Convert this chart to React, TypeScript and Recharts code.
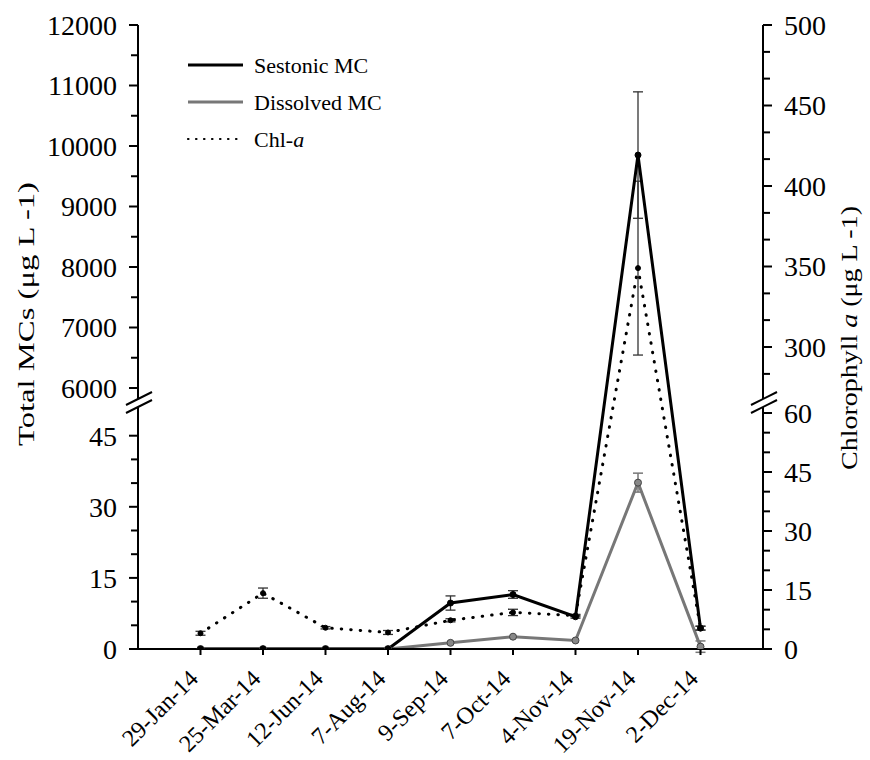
import React from 'react'
import { ComposedChart, Line, XAxis, YAxis, ErrorBar, Legend } from 'recharts'

const dates = ['29-Jan-14', '25-Mar-14', '12-Jun-14', '7-Aug-14', '9-Sep-14', '7-Oct-14', '4-Nov-14', '19-Nov-14', '2-Dec-14']

// MC concentrations (µg/L) and chlorophyll a (µg/L), mean and SD; null = no bar drawn
const sestonic = [0, 0, 0, 0, 9.7, 11.5, 6.8, 9850, 4.4]
const sestonicSd = [null, null, null, null, 1.5, 0.8, 0.3, 1045, 0.4]
const dissolved = [0, 0, 0, 0, 1.3, 2.6, 1.8, 35.1, 0.5]
const dissolvedSd = [null, null, null, null, null, null, null, 2.0, 1.2]
const chla = [4.0, 14.2, 5.4, 4.2, 7.3, 9.3, 8.5, 349, 5.3]
const chlaSd = [0.5, 1.3, 0.3, 0.5, 0.4, 0.8, 0.3, 54, 0.5]

const leftMajor = [0, 15, 30, 45, 6000, 7000, 8000, 9000, 10000, 11000, 12000]
const leftMinor = [5, 10, 20, 25, 35, 40, 6500, 7500, 8500, 9500, 10500, 11500]
const rightMajor = [0, 15, 30, 45, 60, 300, 350, 400, 450, 500]
const rightMinor = [5, 10, 20, 25, 35, 40, 50, 55, 283.3, 316.7, 333.3, 366.7, 383.3, 416.7, 433.3, 466.7, 483.3]

const FONT = '"Liberation Serif", "Times New Roman", serif'
const W = 870
const H = 760
const TOP = 25
const PLOT_H = 624
const LEFT_W = 138
const RIGHT_W = 107
const X_H = H - TOP - PLOT_H

// broken axes: a lower and an upper band stacked on one 0..PLOT_H axis
type Band = { v0: number; v1: number; u0: number; u1: number }
const leftBands: Band[] = [
  { v0: 0, v1: 50, u0: 0, u1: 237 },
  { v0: 6000, v1: 12000, u0: 261, u1: 624 },
]
const rightBands: Band[] = [
  { v0: 0, v1: 60, u0: 0, u1: 236 },
  { v0: 300, v1: 500, u0: 302, u1: 624 },
]

const broken = (bands: Band[]) => (v: number) => {
  const b = v <= bands[0].v1 ? bands[0] : bands[1]
  return b.u0 + ((v - b.v0) * (b.u1 - b.u0)) / (b.v1 - b.v0)
}
const toL = broken(leftBands)
const toR = broken(rightBands)

const errPair = (f: (v: number) => number, v: number, sd: number | null) =>
  sd == null ? null : [f(v) - f(v - sd), f(v + sd) - f(v)]

const rows = dates.map((d, i) => ({
  x: i + 1,
  date: d,
  ses: toL(sestonic[i]),
  sesErr: errPair(toL, sestonic[i], sestonicSd[i]),
  dis: toL(dissolved[i]),
  disErr: errPair(toL, dissolved[i], dissolvedSd[i]),
  chl: toR(chla[i]),
  chlErr: errPair(toR, chla[i], chlaSd[i]),
}))

const styles: Record<string, { stroke: string; width: number; dash?: string; legendDash?: string; legendWidth?: number }> = {
  'Sestonic MC': { stroke: '#000', width: 3 },
  'Dissolved MC': { stroke: '#777', width: 3 },
  'Chl-a': { stroke: '#000', width: 3, dash: '0.5 9', legendDash: '0.5 7.5', legendWidth: 2.2 },
}
const legendOrder = ['Sestonic MC', 'Dissolved MC', 'Chl-a']

const tickEntries = (major: number[], minor: number[], f: (v: number) => number) => [
  ...major.map((v) => ({ v, u: f(v), major: true })),
  ...minor.map((v) => ({ v, u: f(v), major: false })),
]
const leftEntries = tickEntries(leftMajor, leftMinor, toL)
const rightEntries = tickEntries(rightMajor, rightMinor, toR)

const makeYTick = (side: 'left' | 'right', entries: { v: number; u: number; major: boolean }[]) =>
  function YTick(props: any) {
    const { x, y, payload } = props
    const e = entries.find((t) => Math.abs(t.u - payload.value) < 1e-6)
    const dir = side === 'left' ? -1 : 1
    const len = e && e.major ? 9 : 7
    return (
      <g>
        <line x1={x} x2={x + dir * len} y1={y} y2={y} stroke="#000" strokeWidth={2} />
        {e && e.major && (
          <text x={x + dir * 21} y={y} dy="0.35em" textAnchor={side === 'left' ? 'end' : 'start'}
            fontSize={28} fontFamily={FONT} fill="#000">
            {e.v}
          </text>
        )}
      </g>
    )
  }
const LeftTick = makeYTick('left', leftEntries)
const RightTick = makeYTick('right', rightEntries)

function XTick(props: any) {
  const { x, y, payload } = props
  return (
    <g>
      <line x1={x} x2={x} y1={y} y2={y + 6} stroke="#000" strokeWidth={2} />
      <text transform={`translate(${x - 1},${y + 31}) rotate(-45)`} textAnchor="end"
        fontSize={24} fontFamily={FONT} fill="#000">
        {dates[payload.value - 1]}
      </text>
    </g>
  )
}

const dotOf = (fill: string, stroke: string, r: number) =>
  function Dot(p: any) {
    return <circle key={`dot-${p.index}`} cx={p.cx} cy={p.cy} r={r} fill={fill} stroke={stroke} strokeWidth={1} />
  }

function renderLegend(props: any) {
  const items = [...(props.payload || [])].sort(
    (a: any, b: any) => legendOrder.indexOf(a.value) - legendOrder.indexOf(b.value),
  )
  return (
    <svg width={240} height={115} style={{ display: 'block' }}>
      {items.map((it: any, k: number) => {
        const s = styles[it.value]
        const cy = 20 + k * 37
        return (
          <g key={it.value}>
            <line x1={6} x2={61} y1={cy} y2={cy} stroke={s.stroke} strokeWidth={s.legendWidth ?? s.width}
              strokeDasharray={s.legendDash} strokeLinecap={s.legendDash ? 'round' : 'butt'} />
            <text x={72} y={cy} dy="0.35em" fontSize={22} fontFamily={FONT} fill="#000">
              {it.value === 'Chl-a' ? (
                <>
                  Chl-<tspan fontStyle="italic">a</tspan>
                </>
              ) : (
                it.value
              )}
            </text>
          </g>
        )
      })}
    </svg>
  )
}

// axis break: white gap with two parallel slashes
function BreakMark({ cx, cy }: { cx: number; cy: number }) {
  return (
    <g>
      <polygon points={`${cx - 13},${cy + 1} ${cx + 13},${cy - 12} ${cx + 13},${cy - 4} ${cx - 13},${cy + 9}`} fill="#fff" />
      <line x1={cx - 13} y1={cy + 1} x2={cx + 13} y2={cy - 12} stroke="#000" strokeWidth={2} />
      <line x1={cx - 13} y1={cy + 9} x2={cx + 13} y2={cy - 4} stroke="#000" strokeWidth={2} />
    </g>
  )
}

export default function App() {
  const breakY = TOP + PLOT_H - (leftBands[0].u1 + leftBands[1].u0) / 2 + 4
  return (
    <div style={{ position: 'absolute', left: 0, top: 0, width: W, height: H, background: '#fff' }}>
      <ComposedChart width={W} height={H} data={rows} margin={{ top: TOP, right: 0, bottom: 0, left: 0 }}>
        <XAxis dataKey="x" type="number" domain={[0, 10]} ticks={[1, 2, 3, 4, 5, 6, 7, 8, 9]} interval={0}
          height={X_H} tick={XTick} tickLine={false} tickSize={0} tickMargin={0}
          axisLine={{ stroke: '#000', strokeWidth: 2 }} />
        <YAxis yAxisId="left" type="number" domain={[0, PLOT_H]} allowDataOverflow width={LEFT_W}
          ticks={leftEntries.map((t) => t.u)} interval={0} tick={LeftTick} tickLine={false}
          tickSize={0} tickMargin={0} axisLine={{ stroke: '#000', strokeWidth: 2 }} />
        <YAxis yAxisId="right" orientation="right" type="number" domain={[0, PLOT_H]} allowDataOverflow
          width={RIGHT_W} ticks={rightEntries.map((t) => t.u)} interval={0} tick={RightTick}
          tickLine={false} tickSize={0} tickMargin={0} axisLine={{ stroke: '#000', strokeWidth: 2 }} />
        <Legend content={renderLegend} layout="horizontal" align="center" verticalAlign="middle"
          wrapperStyle={{ left: 182, top: 45, width: 240 }} />
        <Line yAxisId="left" dataKey="dis" name="Dissolved MC" stroke={styles['Dissolved MC'].stroke}
          strokeWidth={3} dot={dotOf('#888', '#444', 3.5)} isAnimationActive={false}>
          <ErrorBar dataKey="disErr" width={5} stroke="#777" strokeWidth={1.5} />
        </Line>
        <Line yAxisId="right" dataKey="chl" name="Chl-a" stroke="#000" strokeWidth={3}
          strokeDasharray={styles['Chl-a'].dash} strokeLinecap="round" dot={dotOf('#000', '#000', 2.5)}
          isAnimationActive={false}>
          <ErrorBar dataKey="chlErr" width={5} stroke="#333" strokeWidth={1.3} />
        </Line>
        <Line yAxisId="left" dataKey="ses" name="Sestonic MC" stroke="#000" strokeWidth={3}
          dot={dotOf('#000', '#000', 3)} isAnimationActive={false}>
          <ErrorBar dataKey="sesErr" width={5} stroke="#333" strokeWidth={1.3} />
        </Line>
      </ComposedChart>
      <svg width={W} height={H} style={{ position: 'absolute', left: 0, top: 0, pointerEvents: 'none' }}>
        <BreakMark cx={LEFT_W + 1} cy={breakY} />
        <BreakMark cx={W - RIGHT_W + 1} cy={breakY} />
        <text transform={`translate(34,314) rotate(-90)`} textAnchor="middle" fontSize={24}
          textLength={264} lengthAdjust="spacingAndGlyphs" fontFamily={FONT} fill="#000">
          Total MCs (μg L{'\u2009'}-1)
        </text>
        <text transform={`translate(857,338) rotate(-90)`} textAnchor="middle" fontSize={24}
          textLength={264} lengthAdjust="spacingAndGlyphs" fontFamily={FONT} fill="#000">
          Chlorophyll <tspan fontStyle="italic">a</tspan> (μg L{'\u2009'}-1)
        </text>
      </svg>
    </div>
  )
}
